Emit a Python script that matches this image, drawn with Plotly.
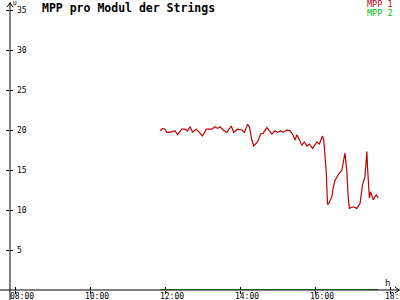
import plotly.graph_objects as go

DAY = "2024-06-01 "
mpp1_times = ["11:52","11:56","12:00","12:03","12:08","12:16","12:20","12:27","12:32","12:36",
              "12:40","12:44","12:50","12:56","13:00","13:06","13:15","13:20","13:24","13:28",
              "13:33","13:39","13:46","13:50","13:56","14:03","14:07","14:12","14:15","14:19",
              "14:22","14:28","14:33","14:37","14:43","14:47","14:51","14:56","15:00","15:05",
              "15:09","15:15","15:20","15:24","15:28","15:31","15:35","15:39","15:43","15:47",
              "15:51","15:56","16:03","16:07","16:12","16:14","16:18","16:20","16:22","16:27",
              "16:29","16:32","16:37","16:43","16:48","16:51","16:53","16:55","17:01","17:07",
              "17:12","17:16","17:20","17:22","17:23","17:24","17:27","17:29","17:33","17:38","17:41"]
mpp1_values = [19.9,20.2,20.1,19.7,19.7,19.9,19.4,20.1,20.1,19.9,
               20.4,19.75,20.1,19.6,19.25,20.1,20.1,20.4,20.2,20.4,
               20.0,19.7,20.5,19.7,20.1,20.0,19.7,20.7,20.4,18.75,
               18.0,18.5,19.5,19.6,20.3,19.9,19.5,19.9,19.7,19.9,
               19.7,20.0,19.9,19.5,18.75,19.4,18.7,18.1,18.5,18.0,
               18.25,17.7,18.5,18.25,19.25,18.75,14.8,10.7,10.8,11.7,
               12.7,13.7,14.4,15.0,17.1,14.8,11.7,10.2,10.4,10.2,
               10.8,13.1,14.2,16.5,17.3,15.4,11.5,12.3,11.3,11.9,11.5]
mpp2_times = ["11:52", "17:41"]
mpp2_values = [0, 0]

x_ticks = ["08:00", "10:00", "12:00", "14:00", "16:00", "18:00"]
y_ticks = [5, 10, 15, 20, 25, 30, 35]
x_range = ["07:52", "18:16"]
y_range = [0, 36]

RED = "#c00000"
GREEN = "#00c000"
FONT = "DejaVu Sans Mono"

fig = go.Figure()
fig.add_trace(go.Scatter(x=[DAY + t for t in mpp2_times], y=mpp2_values, mode="lines",
                         line=dict(color=GREEN, width=2), name="MPP 2", cliponaxis=False))
fig.add_trace(go.Scatter(x=[DAY + t for t in mpp1_times], y=mpp1_values, mode="lines",
                         line=dict(color=RED, width=1.2), name="MPP 1"))

xr = [DAY + t for t in x_range]
tv = [DAY + t for t in x_ticks]
W, H = 400, 300
L, R, T, B = 10, 0, 2, 10
pw, ph = W - L - R, H - T - B

fig.update_layout(
    width=W, height=H, margin=dict(l=L, r=R, t=T, b=B, autoexpand=False),
    paper_bgcolor="white", plot_bgcolor="white", showlegend=False,
    font=dict(family=FONT, size=8, color="black"),
    xaxis=dict(type="date", range=xr, tickvals=tv, ticktext=x_ticks, showgrid=False,
               zeroline=False, showline=False, ticks="inside", ticklen=3, tickcolor="black",
               tickfont=dict(family=FONT, size=8, color="black"), ticklabelshift=7,
               ticklabelstandoff=0, automargin=False, ticklabeloverflow="allow"),
    xaxis2=dict(type="date", range=xr, tickvals=tv, overlaying="x", showticklabels=False,
                showgrid=False, zeroline=False, ticks="outside", ticklen=3, tickcolor="black",
                automargin=False),
    yaxis=dict(range=y_range, tickvals=y_ticks, showgrid=False, zeroline=False, showline=False,
               ticks="outside", ticklen=3, tickcolor="black", ticklabelposition="inside",
               ticklabelstandoff=4, tickfont=dict(family=FONT, size=8, color="black"),
               automargin=False, ticklabeloverflow="allow"),
    yaxis2=dict(range=y_range, tickvals=y_ticks, overlaying="y", showticklabels=False,
                showgrid=False, zeroline=False, ticks="inside", ticklen=3, tickcolor="black",
                automargin=False),
)
# invisible trace to activate overlay axes
fig.add_trace(go.Scatter(x=[xr[0]], y=[0], xaxis="x2", yaxis="y2", mode="markers",
                         marker=dict(opacity=0), hoverinfo="skip"))

# axis lines extending beyond plot area
fig.add_shape(type="line", xref="paper", yref="paper", x0=-L / pw, x1=1, y0=0, y1=0,
              line=dict(color="black", width=1))
fig.add_shape(type="line", xref="paper", yref="paper", x0=0, x1=0, y0=-B / ph, y1=1,
              line=dict(color="black", width=1))
# arrow heads
fig.add_shape(type="path", xref="paper", yref="paper", xsizemode="pixel", ysizemode="pixel",
              xanchor=1, yanchor=0, path="M -5,-3 L -1,0 L -5,3", line=dict(color="black", width=1))
fig.add_shape(type="path", xref="paper", yref="paper", xsizemode="pixel", ysizemode="pixel",
              xanchor=0, yanchor=1, path="M -3,-5 L 0,-1 L 3,-5", line=dict(color="black", width=1))

ann = []
ann.append(dict(text="<b>MPP pro Modul der Strings</b>", x=(40 - L) / pw, y=(H - B - 8) / ph,
                xanchor="left", yanchor="middle", font=dict(family=FONT, size=11.5)))
ann.append(dict(text="MPP 1", x=(395 - L) / pw, y=(H - B - 4) / ph, xanchor="right",
                yanchor="middle", font=dict(family=FONT, size=8.5, color=RED)))
ann.append(dict(text="MPP 2", x=(395 - L) / pw, y=(H - B - 13) / ph, xanchor="right",
                yanchor="middle", font=dict(family=FONT, size=8.5, color=GREEN)))
ann.append(dict(text="h", x=(387 - L) / pw, y=(H - B - 283) / ph, xanchor="center",
                yanchor="middle", font=dict(family=FONT, size=9)))
ann.append(dict(text="U", x=(15 - L) / pw, y=(H - B - 3) / ph, xanchor="center",
                yanchor="middle", font=dict(family=FONT, size=6)))
for a in ann:
    a.update(xref="paper", yref="paper", showarrow=False)
    fig.add_annotation(**a)

fig.write_html("out.html")
